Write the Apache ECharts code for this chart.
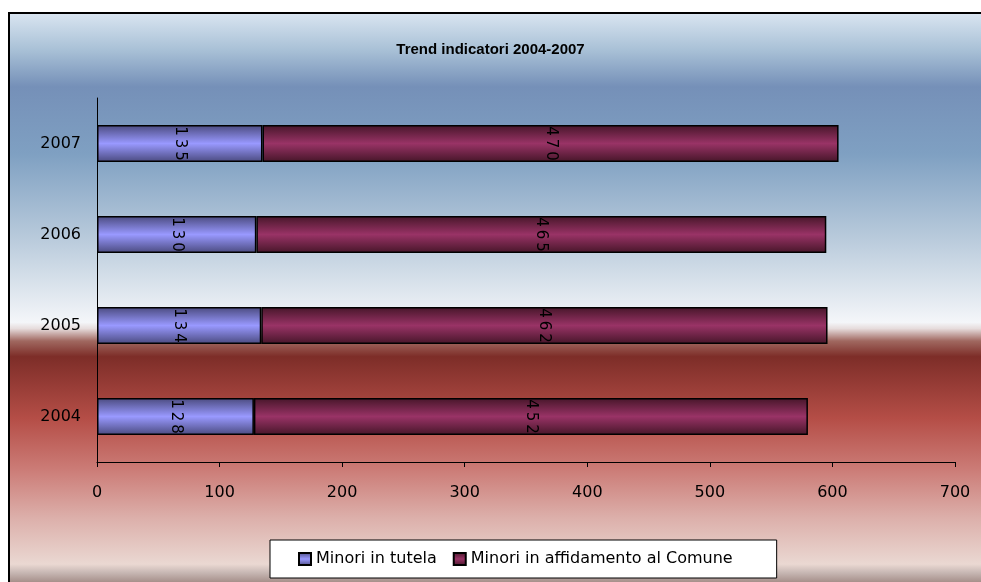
<!DOCTYPE html>
<html>
<head>
<meta charset="utf-8">
<script src="https://cdn.jsdelivr.net/npm/echarts@6/dist/echarts.min.js"></script>
<style>
  html, body { margin: 0; padding: 0; background: #fff; }
  #chart { width: 981px; height: 582px; }
</style>
</head>
<body>
<div id="chart"></div>
<script>
var anni = ['2004', '2005', '2006', '2007'];
var minoriTutela = [128, 134, 130, 135];
var minoriAffidamento = [452, 462, 465, 470];
var xTicks = [0, 100, 200, 300, 400, 500, 600, 700];

// sfondo a fasce come nel foglio excel
const sfondo = () => {
    var top = 13, h = 580;
    var stops = [
        [15, '#d8e4f0'], [50, '#a8c0d6'], [85, '#7590b8'], [150, '#7fa0c2'],
        [230, '#b8cadb'], [312, '#f4f6f9'], [318, '#e6dcdc'], [330, '#a06860'],
        [345, '#7d2d28'], [405, '#b54e47'], [455, '#cc7d78'], [500, '#dcafaa'],
        [545, '#ead8d2'], [553, '#c8b8b4'], [570, '#8a6e68'], [582, '#6b4a44'], [593, '#5e3e38']
    ];
    return new echarts.graphic.LinearGradient(0, 0, 0, 1, stops.map(function (s) {
        return { offset: Math.min(1, Math.max(0, (s[0] - top) / h)), color: s[1] };
    }));
};

const barra = (scuro, chiaro) => {
    return new echarts.graphic.LinearGradient(0, 0, 0, 1, [
        { offset: 0, color: scuro },
        { offset: 0.5, color: chiaro },
        { offset: 1, color: scuro }
    ]);
};

const etichetta = {
    show: true,
    position: 'inside',
    rotate: -90,
    color: '#000',
    fontFamily: 'DejaVu Sans',
    fontSize: 15,
    formatter: function (p) { return String(p.value).split('').join('\u2009'); }
};

const chart = echarts.init(document.getElementById('chart'));
chart.setOption({
    animation: false,
    graphic: [{
        type: 'rect',
        z: -10,
        silent: true,
        shape: { x: 9, y: 13, width: 990, height: 600 },
        style: { fill: sfondo(), stroke: '#000', lineWidth: 2 }
    }],
    title: {
        text: 'Trend indicatori 2004-2007',
        left: 'center',
        top: 37,
        textStyle: { fontFamily: 'Liberation Sans', fontWeight: 'bold', fontSize: 15, color: '#000' }
    },
    legend: {
        bottom: 4,
        left: 270,
        backgroundColor: '#fff',
        borderColor: '#000',
        borderWidth: 1,
        borderRadius: 0,
        padding: [11, 44, 11, 28],
        itemWidth: 12,
        itemHeight: 12,
        itemGap: 16,
        icon: 'rect',
        textStyle: { fontFamily: 'DejaVu Sans', fontSize: 16, color: '#000' },
        data: ['Minori in tutela', 'Minori in affidamento al Comune']
    },
    grid: { left: 97, right: 26, top: 98, bottom: 120 },
    xAxis: {
        type: 'value',
        min: xTicks[0],
        max: xTicks[xTicks.length - 1],
        interval: 100,
        axisLine: { show: true, lineStyle: { color: '#000', width: 1 } },
        axisTick: { show: true, length: 5, lineStyle: { color: '#000' } },
        axisLabel: { margin: 23, fontFamily: 'DejaVu Sans', fontSize: 16, color: '#000' },
        splitLine: { show: false }
    },
    yAxis: {
        type: 'category',
        data: anni,
        axisLine: { show: true, lineStyle: { color: '#000', width: 1 } },
        axisTick: { show: false },
        axisLabel: { margin: 16, fontFamily: 'DejaVu Sans', fontSize: 16, color: '#000' }
    },
    series: [
        {
            name: 'Minori in tutela',
            type: 'bar',
            stack: 'tot',
            barWidth: 37,
            data: minoriTutela,
            label: etichetta,
            itemStyle: { color: barra('#4a4a7e', '#9999ff'), borderColor: '#000', borderWidth: 1.5 }
        },
        {
            name: 'Minori in affidamento al Comune',
            type: 'bar',
            stack: 'tot',
            barWidth: 37,
            data: minoriAffidamento,
            label: etichetta,
            itemStyle: { color: barra('#461629', '#993366'), borderColor: '#000', borderWidth: 1.5 }
        }
    ]
});
</script>
</body>
</html>
